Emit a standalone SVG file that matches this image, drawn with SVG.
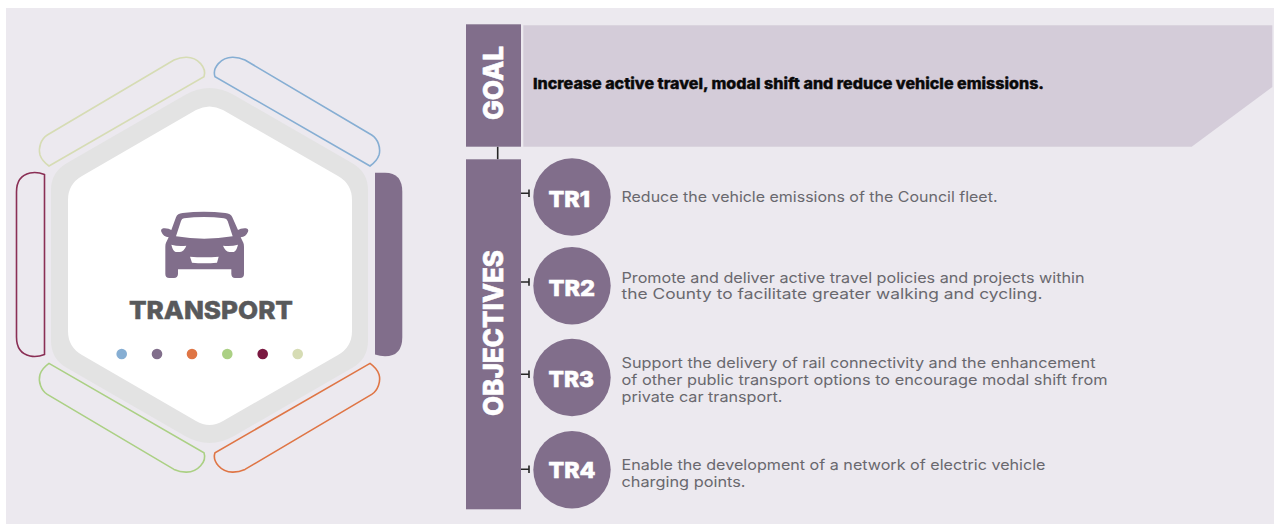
<svg xmlns="http://www.w3.org/2000/svg" width="1274" height="524" viewBox="0 0 1274 524">
<style>
.body{font-family:"Inter","Liberation Sans",sans-serif;font-size:14.5px;fill:#69686e}
.tr{font-family:"Inter","Liberation Sans",sans-serif;font-weight:800;font-size:22px;fill:#fff;stroke:#fff;stroke-width:.6}
.side{font-family:"Inter","Liberation Sans",sans-serif;font-weight:800;font-size:27px;fill:#fff;stroke:#fff;stroke-width:.6}
.circ{fill:#816e8b}
.seg{fill:none;stroke-width:1.6}
.tick{stroke:#262626;stroke-width:1.6;fill:none}
</style>
<rect width="1274" height="524" fill="#fff"/>
<rect x="6" y="8" width="1268" height="516" fill="#ece9ef"/>
<g id="hexagon">
<path d="M185 95Q209.500 81 234 95L352 163Q368 172 368 190V341Q368 359 352 368L234 436Q209.500 450 185 436L67 368Q51 359 51 341V190Q51 172 67 163Z" fill="#e3e3e3"/>
<path d="M196 110Q209.500 103 223 110L338 176Q352 184 352 200V331Q352 347 338 355L223 421Q209.500 429 196 421L82 355Q68 347 68 331V200Q68 184 82 176Z" fill="#fff"/>
</g>
<g id="segments">
<path id="seg-blue" class="seg" stroke="#86aed3" d="M215 76.700C212 68 221 57 233 57.300Q239 57.500 245 60L371.700 135C378 139 381 148 379 155Q377 161 370 166Z"/>
<path id="seg-yellow" class="seg" stroke="#d6dcb4" transform="matrix(-1 0 0 1 419 0)" d="M215 76.700C212 68 221 57 233 57.300Q239 57.500 245 60L371.700 135C378 139 381 148 379 155Q377 161 370 166Z"/>
<path id="seg-orange" class="seg" stroke="#df7545" transform="matrix(1 0 0 -1 0 529.400)" d="M215 76.700C212 68 221 57 233 57.300Q239 57.500 245 60L371.700 135C378 139 381 148 379 155Q377 161 370 166Z"/>
<path id="seg-green" class="seg" stroke="#abd084" transform="matrix(-1 0 0 -1 419 529.400)" d="M215 76.700C212 68 221 57 233 57.300Q239 57.500 245 60L371.700 135C378 139 381 148 379 155Q377 161 370 166Z"/>
<path id="seg-crimson" fill="none" stroke="#8a2f55" stroke-width="1.6" d="M44.500 174.500Q37 171.500 30 173Q16.500 176 16.500 192V337Q16.500 353 30 356Q37 357.500 44.500 354.500Z"/>
<path id="seg-purple" fill="#816e8b" d="M375 172.700H385Q402.300 172.700 402.300 192V337Q402.300 356.300 385 356.300Q380 356.300 375 354.500Z"/>
</g>
<g id="transport">
<g transform="translate(0,40) scale(.33333)">
<path fill="#816e8b" fill-rule="evenodd" d="M528 532Q532 520 548 519Q612 511 676 519Q692 520 697 532L714 570Q722 564 738 565Q747 566 744 575Q738 590 722 592L730 608Q732 612 732 620V702Q732 714 720 714H705Q695 714 694 702V688H534V702Q533 714 522 714H508Q496 714 496 702V620Q496 612 498 608L506 592Q490 590 484 575Q481 566 490 565Q506 564 514 570ZM552 535Q612 527 672 535Q680 536 683 543L698 589Q612 603 528 589L543 543Q545 536 552 535ZM514 614Q535 620 559 617Q552 635 540 636H527Q519 634 514 614ZM714 614Q693 620 669 617Q676 635 688 636H701Q709 634 714 614ZM570 650Q612 654 656 650L651 668Q612 672 576 668Z"/>
</g>
<text x="129" y="318.600" textLength="164" lengthAdjust="spacingAndGlyphs" font-family="Inter, 'Liberation Sans', sans-serif" font-weight="800" font-size="25" fill="#58595b" stroke="#58595b" stroke-width=".5">TRANSPORT</text>
<circle cx="121.700" cy="354" r="5.300" fill="#86aed3"/>
<circle cx="157" cy="354" r="5.300" fill="#816e8b"/>
<circle cx="192" cy="354" r="5.300" fill="#df7545"/>
<circle cx="227.300" cy="354" r="5.300" fill="#abd084"/>
<circle cx="262.700" cy="354" r="5.300" fill="#7a1840"/>
<circle cx="297.700" cy="354" r="5.300" fill="#d6dcb4"/>
</g>
<g id="connectors">
<path class="tick" d="M497.700 146.700V159.300"/>
<path class="tick" d="M521 193.300H529M529 189.500V197.100"/>
<path class="tick" d="M521 282H529M529 278.200V285.800"/>
<path class="tick" d="M521 374.300H529M529 370.500V378.100"/>
<path class="tick" d="M521 469.300H529M529 465.500V473.100"/>
</g>
<g id="goal">
<rect x="466" y="24.300" width="55" height="122.400" fill="#816e8b"/>
<text class="side" transform="translate(503.300,120) rotate(-90)" textLength="74" lengthAdjust="spacingAndGlyphs">GOAL</text>
<path d="M523.300 25.300H1272.300V87L1191.700 146.700H523.300Z" fill="#d4ccd9"/>
<text x="533" y="88.800" textLength="511" lengthAdjust="spacingAndGlyphs" font-family="Inter, 'Liberation Sans', sans-serif" font-weight="800" font-size="15px" fill="#0a0a0a" stroke="#0a0a0a" stroke-width=".35">Increase active travel, modal shift and reduce vehicle emissions.</text>
</g>
<g id="objectives">
<rect x="466" y="159.300" width="55" height="350" fill="#816e8b"/>
<text class="side" transform="translate(503.300,416) rotate(-90)" textLength="166" lengthAdjust="spacingAndGlyphs">OBJECTIVES</text>
</g>
<g id="TR1">
<circle class="circ" cx="572" cy="197" r="38.700"/>
<text class="tr" x="548.500" y="207" textLength="41.500" lengthAdjust="spacingAndGlyphs">TR1</text>
<text class="body" x="621.500" y="201.700" textLength="376" lengthAdjust="spacingAndGlyphs">Reduce the vehicle emissions of the Council fleet.</text>
</g>
<g id="TR2">
<circle class="circ" cx="572" cy="285.700" r="38.700"/>
<text class="tr" x="548.500" y="295.700" textLength="46.500" lengthAdjust="spacingAndGlyphs">TR2</text>
<text class="body" x="621.500" y="282.700" textLength="463" lengthAdjust="spacingAndGlyphs">Promote and deliver active travel policies and projects within</text>
<text class="body" x="621.500" y="299.300" textLength="421" lengthAdjust="spacingAndGlyphs">the County to facilitate greater walking and cycling.</text>
</g>
<g id="TR3">
<circle class="circ" cx="572" cy="377.500" r="38.700"/>
<text class="tr" x="548.500" y="386.700" textLength="45.500" lengthAdjust="spacingAndGlyphs">TR3</text>
<text class="body" x="621.500" y="368.300" textLength="474" lengthAdjust="spacingAndGlyphs">Support the delivery of rail connectivity and the enhancement</text>
<text class="body" x="621.500" y="385" textLength="486" lengthAdjust="spacingAndGlyphs">of other public transport options to encourage modal shift from</text>
<text class="body" x="621.500" y="401.700" textLength="161" lengthAdjust="spacingAndGlyphs">private car transport.</text>
</g>
<g id="TR4">
<circle class="circ" cx="572" cy="469.700" r="38.700"/>
<text class="tr" x="548.500" y="478.300" textLength="47" lengthAdjust="spacingAndGlyphs">TR4</text>
<text class="body" x="621.500" y="470" textLength="424" lengthAdjust="spacingAndGlyphs">Enable the development of a network of electric vehicle</text>
<text class="body" x="621.500" y="486.700" textLength="124" lengthAdjust="spacingAndGlyphs">charging points.</text>
</g>
</svg>
